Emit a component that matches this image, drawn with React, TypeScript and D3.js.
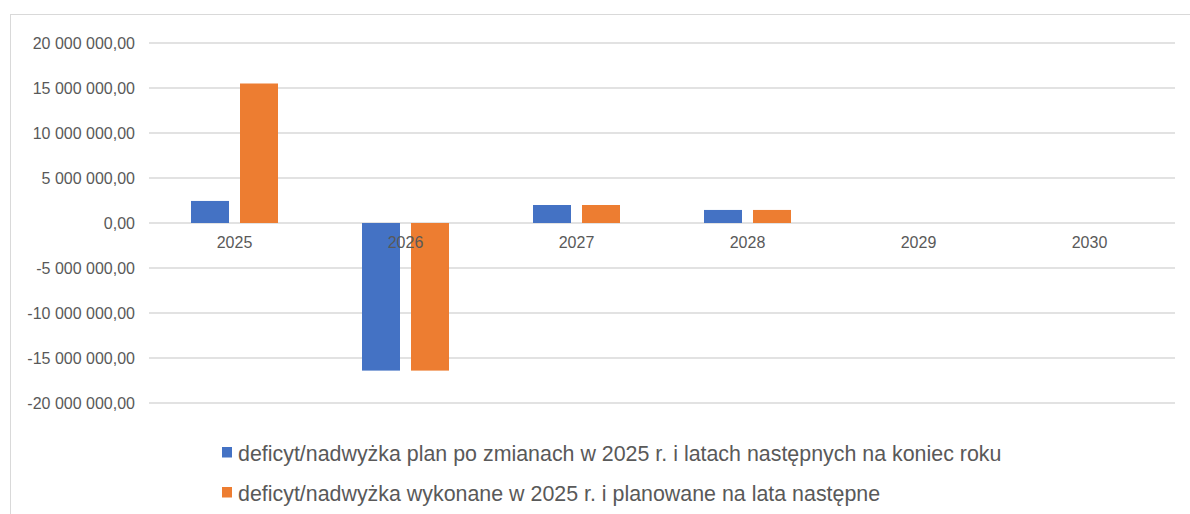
import React from "react";
import * as d3 from "d3";

const categories: string[] = ["2025", "2026", "2027", "2028", "2029", "2030"];
const seriesNames: string[] = [
  "deficyt/nadwyżka plan po zmianach w 2025 r. i latach następnych na koniec roku",
  "deficyt/nadwyżka wykonane w 2025 r. i planowane na lata następne",
];
const planValues: number[] = [2450000, -16400000, 2000000, 1450000, 0, 0];
const executedValues: number[] = [15500000, -16400000, 2000000, 1450000, 0, 0];
const yTicks: number[] = [20000000, 15000000, 10000000, 5000000, 0, -5000000, -10000000, -15000000, -20000000];
const colors: string[] = ["#4472C4", "#ED7D31"];

const W = 1190;
const H = 514;
const plotLeft = 149;
const plotRight = 1175;
const plotTop = 43;
const plotBottom = 403;

const locale = d3.formatLocale({
  decimal: ",",
  thousands: " ",
  grouping: [3],
  currency: ["", ""],
  minus: "-",
});
const fmt = locale.format(",.2f");

export default function App() {
  const series = [planValues, executedValues];
  const x0 = d3.scaleBand<string>().domain(categories).range([plotLeft, plotRight]);
  const groupW = 87;
  const x1 = d3
    .scaleBand<number>()
    .domain([0, 1])
    .range([0, groupW])
    .paddingInner(11 / 49);
  const y = d3.scaleLinear().domain([-20000000, 20000000]).range([plotBottom, plotTop]);
  const off = (x0.bandwidth() - groupW) / 2;
  const textColor = "#595959";
  const font = "'Liberation Sans', Arial, sans-serif";

  return (
    <svg
      width={W}
      height={H}
      style={{ position: "absolute", left: 0, top: 0, background: "#fff" }}
      fontFamily={font}
    >
      <rect x={10.5} y={14.5} width={W} height={H} fill="#fff" stroke="#d9d9d9" strokeWidth={1} />
      {yTicks.map((t) => (
        <g key={t}>
          <line x1={plotLeft} x2={plotRight} y1={y(t)} y2={y(t)} stroke="#d9d9d9" strokeWidth={1.4} />
          <text x={135} y={y(t) + 6} textAnchor="end" fontSize={16} fill={textColor}>
            {fmt(t)}
          </text>
        </g>
      ))}
      {series.map((vals, si) =>
        vals.map((v, ci) => {
          if (v === 0) return null;
          const bx = (x0(categories[ci]) as number) + off + (x1(si) as number);
          const y0 = y(0);
          const yv = y(v);
          return (
            <rect
              key={`${si}-${ci}`}
              x={bx}
              y={Math.min(y0, yv)}
              width={x1.bandwidth()}
              height={Math.abs(yv - y0)}
              fill={colors[si]}
            />
          );
        })
      )}
      {categories.map((c) => (
        <text
          key={c}
          x={(x0(c) as number) + x0.bandwidth() / 2}
          y={248}
          textAnchor="middle"
          fontSize={16}
          fill={textColor}
        >
          {c}
        </text>
      ))}
      {seriesNames.map((name, i) => (
        <g key={name}>
          <rect x={222} y={447 + i * 40} width={10} height={10.5} fill={colors[i]} />
          <text x={238} y={461 + i * 40} fontSize={21.4} fill={textColor}>
            {name}
          </text>
        </g>
      ))}
    </svg>
  );
}
